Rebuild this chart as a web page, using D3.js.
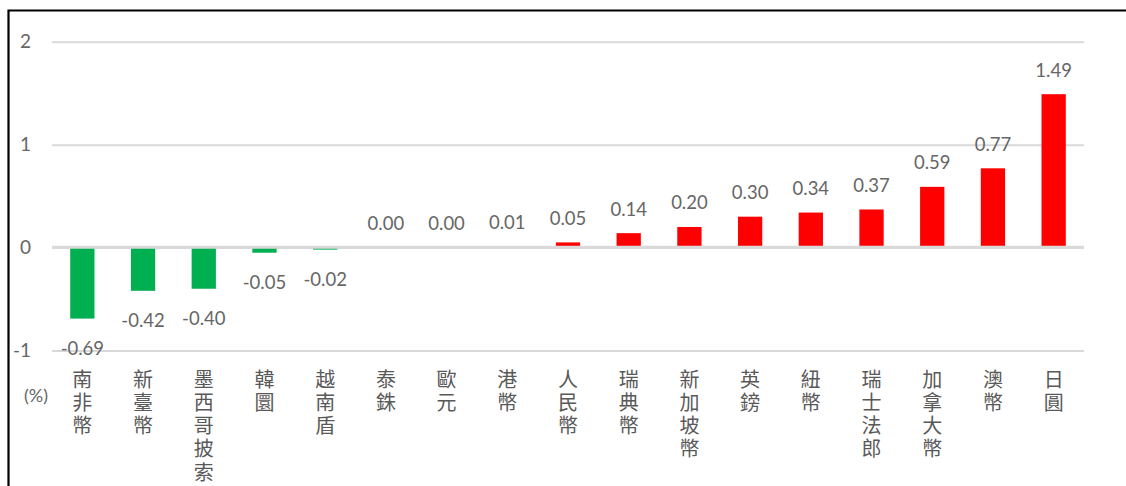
<!DOCTYPE html>
<html><head><meta charset="utf-8">
<script src="https://cdn.jsdelivr.net/npm/d3@7"></script>
<style>body{margin:0;background:#fff;}svg{display:block;}</style>
</head><body>
<svg id="c" width="1126" height="486"></svg>
<script>
const categories = ["南非幣","新臺幣","墨西哥披索","韓圜","越南盾","泰銖","歐元","港幣","人民幣","瑞典幣","新加坡幣","英鎊","紐幣","瑞士法郎","加拿大幣","澳幣","日圓"];
const values = [-0.69,-0.42,-0.40,-0.05,-0.02,0.00,0.00,0.01,0.05,0.14,0.20,0.30,0.34,0.37,0.59,0.77,1.49];
const tickValues = [-1,0,1,2];
const unitLabel = "(%)";

(function(){
const svg = d3.select("#c");
const mL = 52, mR = 1084, mT = 41.7, mB = 350.5;
const x = d3.scaleBand().domain(categories).range([mL, mR]).paddingInner(0.6).paddingOuter(0.3);
const y = d3.scaleLinear().domain([-1, 2]).range([mB, mT]);
const numFont = "Lato, 'Open Sans', sans-serif";
const cjkFont = "'Noto Sans CJK TC', sans-serif";
const gray = "#595959";
const fmt = d => d3.format(".2f")(d).replace("\u2212", "-");

// border
svg.append("path").attr("d", "M8.5,486 L8.5,10.5 L1126,10.5").attr("fill","none").attr("stroke","#000").attr("stroke-width",2.2);

// gridlines + tick labels
const yAxis = d3.axisLeft(y).tickValues(tickValues).tickSize(-(mR-mL)).tickFormat(d => String(d));
const g = svg.append("g").attr("transform", `translate(${mL},0)`).call(yAxis);
g.select(".domain").remove();
g.selectAll(".tick line").attr("stroke", "#d9d9d9").attr("stroke-width", 2);
g.selectAll(".tick text").attr("x", -21).attr("dy", "0.3em").attr("fill", "#666").attr("font-family", numFont).attr("font-size", 19).attr("text-anchor","end");

// bars
svg.append("g").selectAll("rect").data(values).join("rect")
  .attr("x", (d,i) => x(categories[i]))
  .attr("width", x.bandwidth())
  .attr("y", d => y(Math.max(0,d)))
  .attr("height", d => Math.abs(y(d) - y(0)))
  .attr("fill", d => d < 0 ? "#00b050" : "#ff0000");

// zero line on top
svg.append("line").attr("x1", mL).attr("x2", mR).attr("y1", y(0) - 0.3).attr("y2", y(0) - 0.3)
  .attr("stroke", "#d9d9d9").attr("stroke-width", 2.8);

// data labels
svg.append("g").selectAll("text").data(values).join("text")
  .attr("x", (d,i) => x(categories[i]) + x.bandwidth()/2)
  .attr("y", d => d < 0 ? y(d) + 36 : y(d) - 17.5)
  .attr("text-anchor", "middle")
  .attr("fill", "#666").attr("font-family", numFont).attr("font-size", 18.5)
  .text(fmt);

// category labels (vertical, upright)
svg.append("g").selectAll("text").data(categories).join("text")
  .attr("x", c => x(c) + x.bandwidth()/2)
  .attr("y", 369)
  .attr("writing-mode", "vertical-rl")
  .style("text-orientation", "upright")
  .attr("letter-spacing", 3.3)
  .attr("text-anchor", "start")
  .attr("fill", gray).attr("font-family", cjkFont).attr("font-size", 20)
  .text(c => c);

// unit label
svg.append("text").attr("x", 36).attr("y", 402).attr("text-anchor","middle")
  .attr("fill", "#666").attr("font-family", numFont).attr("font-size", 18).text(unitLabel);
})();
</script>
</body></html>
